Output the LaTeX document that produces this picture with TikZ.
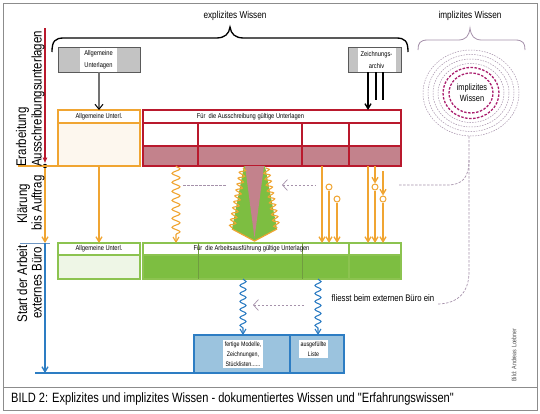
\documentclass[tikz,border=0pt]{standalone}
\usepackage{fontspec}
\setmainfont{Liberation Sans}
\newfontfamily\nf[FakeStretch=0.82]{Liberation Sans}
\usetikzlibrary{arrows.meta,decorations.pathmorphing,calc}
\definecolor{cred}{RGB}{185,25,45}
\definecolor{credf}{RGB}{195,130,140}
\definecolor{corange}{RGB}{240,165,50}
\definecolor{corangef}{RGB}{253,247,238}
\definecolor{cgreenb}{RGB}{140,195,80}
\definecolor{cgreenf}{RGB}{125,190,65}
\definecolor{cgreenl}{RGB}{238,246,230}
\definecolor{cblue}{RGB}{45,125,195}
\definecolor{cbluef}{RGB}{155,195,222}
\definecolor{cgrayf}{RGB}{195,195,195}
\definecolor{cgrayb}{RGB}{90,90,90}
\definecolor{cmag}{RGB}{170,30,110}
\definecolor{cdash}{RGB}{165,145,170}
\definecolor{cframe}{RGB}{140,140,140}
\definecolor{caxis}{RGB}{110,150,195}
\tikzset{
  lbl/.style={font=\nf\fontsize{7}{8}\selectfont, inner sep=0pt},
  boxn/.style={anchor=north west, inner sep=0pt, outer sep=0pt, line width=1.1pt},
  oarrow/.style={draw=corange, line width=1.3pt, -{Straight Barb[length=5pt,width=6pt]}},
  owave/.style={draw=corange, line width=1.1pt, -{Straight Barb[length=5pt,width=6pt]}, decorate, decoration={snake, amplitude=4pt, segment length=9pt, post length=6pt}},
  cwave/.style={draw=corange, line width=1.1pt, decorate, decoration={snake, amplitude=3pt, segment length=6pt}},
  bwave/.style={draw=cblue, line width=1.1pt, -{Straight Barb[length=5pt,width=6pt]}, decorate, decoration={snake, amplitude=3pt, segment length=8pt, post length=6pt}},
  dline/.style={draw=cdash, line width=0.7pt, dash pattern=on 2.5pt off 1.5pt},
  chev/.style={{Straight Barb[length=5pt,width=11pt]}-},
  ring/.style={draw=cdash, line width=0.5pt, dash pattern=on 1.5pt off 1.2pt},
  mring/.style={draw=cmag, line width=1.3pt, dash pattern=on 2.5pt off 1.5pt},
  ocirc/.style={circle, draw=corange, fill=white, line width=1pt, minimum size=6pt, inner sep=0pt},
  axl/.style={font=\nf\fontsize{14}{16}\selectfont, rotate=90, inner sep=0pt},
}
\begin{document}
\begin{tikzpicture}[x=1pt,y=-1pt]
\useasboundingbox (0,0) rectangle (540,413);
% frame and caption
\draw[cframe, line width=1pt] (3,3) rectangle (537,410);
\draw[cframe, line width=1pt] (3,387) -- (537,387);
\node[anchor=west, inner sep=0pt, font=\nf\fontsize{13.5}{15}\selectfont] (cap) at (11,399) {BILD 2: Explizites und implizites Wissen - dokumentiertes Wissen und "Erfahrungswissen"};
\node[rotate=90, font=\nf\fontsize{6.5}{8}\selectfont, text=black!70, inner sep=0pt] (credit) at (514,355) {Bild: Andreas Loebner};

% top labels and braces
\node[font=\nf\fontsize{10}{12}\selectfont, inner sep=0pt] (ew) at (235,16) {explizites Wissen};
\node[font=\nf\fontsize{10}{12}\selectfont, inner sep=0pt] (iw) at (470,16) {implizites Wissen};
\draw[line width=1.3pt] (52,52) .. controls (52,41) and (55,38) .. (64,38) -- (216,38) .. controls (225,38) and (229,34) .. (230,27) .. controls (231,34) and (235,38) .. (244,38) -- (396,38) .. controls (405,38) and (408,41) .. (408,52);
\draw[cdash, line width=0.8pt] (418,50) .. controls (418,43) and (420,40) .. (428,40) -- (458,40) .. controls (466,40) and (469,36) .. (470,28) .. controls (471,36) and (474,40) .. (482,40) -- (515,40) .. controls (523,40) and (525,43) .. (525,50);

% implicit knowledge rings
\coordinate (cc) at (471,93);
\foreach \a/\b in {48/43,43/38.5,38/34,33/29.5}
  \draw[ring] (cc) ellipse [x radius=\a pt, y radius=\b pt];
\draw[mring] (cc) ellipse [x radius=28pt, y radius=25.5pt];
\draw[mring] (cc) ellipse [x radius=22pt, y radius=20pt];
\node[fill=white, inner sep=0.5pt, align=center, font=\nf\fontsize{9}{11}\selectfont] (iwc) at (472,93) {implizites\\Wissen};

% gray source boxes
\fill[cgrayf] (58,47) rectangle (140,72);
\node[boxn, draw=cgrayb, line width=0.8pt, minimum width=82pt, minimum height=25pt] (ga) at (58,47) {};
\node[fill=white, minimum width=37pt, minimum height=24pt, inner sep=0pt, align=center, font=\nf\fontsize{7}{12}\selectfont] (gal) at (98.5,59.5) {Allgemeine\\Unterlagen};
\fill[cgrayf] (348,47) rectangle (401,72);
\node[boxn, draw=cgrayb, line width=0.8pt, minimum width=53pt, minimum height=25pt] (za) at (348,47) {};
\node[fill=white, minimum width=38pt, minimum height=24pt, inner sep=0pt, align=center, font=\nf\fontsize{7}{12}\selectfont] (zal) at (376.5,59.5) {Zeichnungs-\\archiv};

% orange box
\fill[corangef] (58,123) rectangle (140,166);
\node[boxn, draw=corange, minimum width=82pt, minimum height=56pt] (ob) at (58,110) {};
\draw[corange, line width=1.1pt] ([yshift=-13pt]ob.north west) -- ([yshift=-13pt]ob.north east);
\node[lbl] (obl) at (99,116.5) {Allgemeine Unterl.};

% red box
\fill[credf] (143,146) rectangle (401,166);
\node[boxn, draw=cred, minimum width=258pt, minimum height=56pt] (rb) at (143,110) {};
\draw[cred, line width=1.1pt] (143,123) -- (401,123);
\draw[cred, line width=1.1pt] (143,146) -- (401,146);
\foreach \x in {198,302,349} \draw[cred, line width=1.1pt] (\x,123) -- (\x,166);
\node[lbl] (rbl) at (250.5,116.5) {Für\ \ die Ausschreibung gültige Unterlagen};

% green boxes
\fill[cgreenl] (58,255) rectangle (140,279);
\node[boxn, draw=cgreenb, minimum width=82pt, minimum height=36pt] (gb) at (58,243) {};
\draw[cgreenb, line width=1.1pt] ([yshift=-12pt]gb.north west) -- ([yshift=-12pt]gb.north east);
\node[lbl] (gbl) at (99,249) {Allgemeine Unterl.};
\fill[cgreenf] (143,255) rectangle (401,279);
\node[boxn, draw=cgreenb, minimum width=258pt, minimum height=36pt] (gg) at (143,243) {};
\draw[cgreenb, line width=1.1pt] ([yshift=-12pt]gg.north west) -- ([yshift=-12pt]gg.north east);
\foreach \x in {198,302} \draw[cgreenb!80!black, line width=0.5pt] (\x,243) -- (\x,279);
\draw[cgreenb, line width=1.1pt] (349,243) -- (349,279);
\node[lbl] (ggl) at (251.5,249) {Für\ \ die Arbeitsausführung gültige Unterlagen};

% blue box
\fill[cbluef] (194,335) rectangle (344,373);
\node[boxn, draw=cblue, minimum width=150pt, minimum height=38pt] (bb) at (194,335) {};
\draw[cblue, line width=1.1pt] (290,335) -- (290,373);
\node[fill=white, inner sep=1.5pt, align=center, font=\nf\fontsize{6.5}{10}\selectfont] (bbl1) at (243,354) {fertige Modelle,\\Zeichnungen,\\Stücklisten......};
\node[fill=white, inner sep=1.5pt, align=center, font=\nf\fontsize{6.5}{10}\selectfont] (bbl2) at (313.5,349) {ausgefüllte\\Liste};

% connectors from source boxes
\draw[line width=2.5pt, draw=black!55, -{Straight Barb[length=5pt,width=8pt,color=black,line width=1pt]}] (ga.south) -- (ob.north);
\draw[line width=1.4pt, -{Straight Barb[length=5pt,width=6pt]}] ([xshift=-6.5pt]za.south) -- ([xshift=-6.5pt]za.south |- rb.north);
\draw[line width=1.4pt] ([xshift=1.5pt]za.south) -- ++(0,28);
\draw[line width=1.4pt] ([xshift=8.5pt]za.south) -- ++(0,28);

% time axis
\node[circle, fill=black, inner sep=0pt, minimum size=4.5pt] (dot) at (45,166) {};
\coordinate (rtop) at (45,28);
\coordinate (ax2) at (45,243);
\coordinate (ax3) at (45,373);
\draw[cred, line width=1.3pt, -{Latex[length=6pt,width=5pt]}] (rtop) -- (dot.north);
\draw[corange, line width=1.3pt] (18,166) -- (ob.south west);
\draw[oarrow] (dot.south) -- (ax2);
\draw[caxis, line width=1pt] (20,243) -- (50,243);
\draw[cblue, line width=1.3pt, -{Straight Barb[length=5pt,width=6pt]}] (ax2) -- (ax3);
\draw[cblue, line width=1.3pt] (35,373) -- (bb.south west);
\node[axl, anchor=base west] (l1a) at (26,167) {Erarbeitung};
\node[axl, anchor=base west] (l1b) at (41.5,167) {Ausschreibungsunterlagen};
\node[axl, anchor=base] (l2a) at (27,204) {Klärung};
\node[axl, anchor=base] (l2b) at (41.5,203) {bis Auftrag};
\node[axl, anchor=base] (l3a) at (27,284) {Start der Arbeit};
\node[axl, anchor=base] (l3b) at (41.5,283) {externes Büro};

% orange flows
\draw[oarrow] (ob.south) -- (gb.north);
\draw[owave] ([xshift=33pt]rb.south west) -- ([xshift=33pt]gg.north west);
\fill[cgreenf] (244,166) -- (265,166) -- (277,229) -- (254.5,241) -- (232,229) -- cycle;
\fill[credf] (245,166) -- (264,166) -- (254.5,238) -- cycle;
\draw[cwave] (243,168) -- (232,228);
\draw[cwave] (266,168) -- (277,228);
\draw[corange, line width=1.2pt] (232,229) -- (254.5,241) -- (277,229);
\draw[oarrow] ([xshift=179pt]rb.south west) -- ([xshift=179pt]gg.north west);
\node[ocirc] (o1) at (329,187) {};
\draw[oarrow] (o1.south) -- ([xshift=186pt]gg.north west);
\node[ocirc] (o2) at (337,199) {};
\draw[oarrow] (o2.south) -- ([xshift=194pt]gg.north west);
\draw[oarrow] ([xshift=225pt]rb.south west) -- ([xshift=225pt]gg.north west);
\node[ocirc] (o3) at (375,187) {};
\draw[oarrow] ([xshift=232pt]rb.south west) -- (o3.north);
\draw[oarrow] (o3.south) -- ([xshift=232pt]gg.north west);
\node[ocirc] (o4) at (383,199) {};
\draw[oarrow] ([xshift=240pt,yshift=-5pt]rb.south west) -- (o4.north);
\draw[oarrow] (o4.south) -- ([xshift=240pt]gg.north west);

% blue flows
\draw[bwave] ([xshift=100pt]gg.south west) -- ([xshift=49pt]bb.north west);
\draw[bwave] ([xshift=175pt]gg.south west) -- ([xshift=124pt]bb.north west);

% implicit knowledge flow (dashed)
\coordinate (cbot) at (469,136);
\coordinate (fe) at (437,304);
\draw[dline] (cbot) -- (469,272) .. controls (469,292) and (458,304) .. (fe);
\draw[dline] (469,160) .. controls (469,178) and (462,185) .. (447,185) -- (398,185);
\draw[dline, chev] (282,185) -- (315,185);
\draw[dline] (183,185) -- (227,185);
\node[font=\nf\fontsize{9.5}{11}\selectfont, inner sep=0pt] (fl) at (383,298) {fliesst beim externen Büro ein};
\draw[dline, chev] (253,305) -- (305,305);
\end{tikzpicture}
\end{document}
